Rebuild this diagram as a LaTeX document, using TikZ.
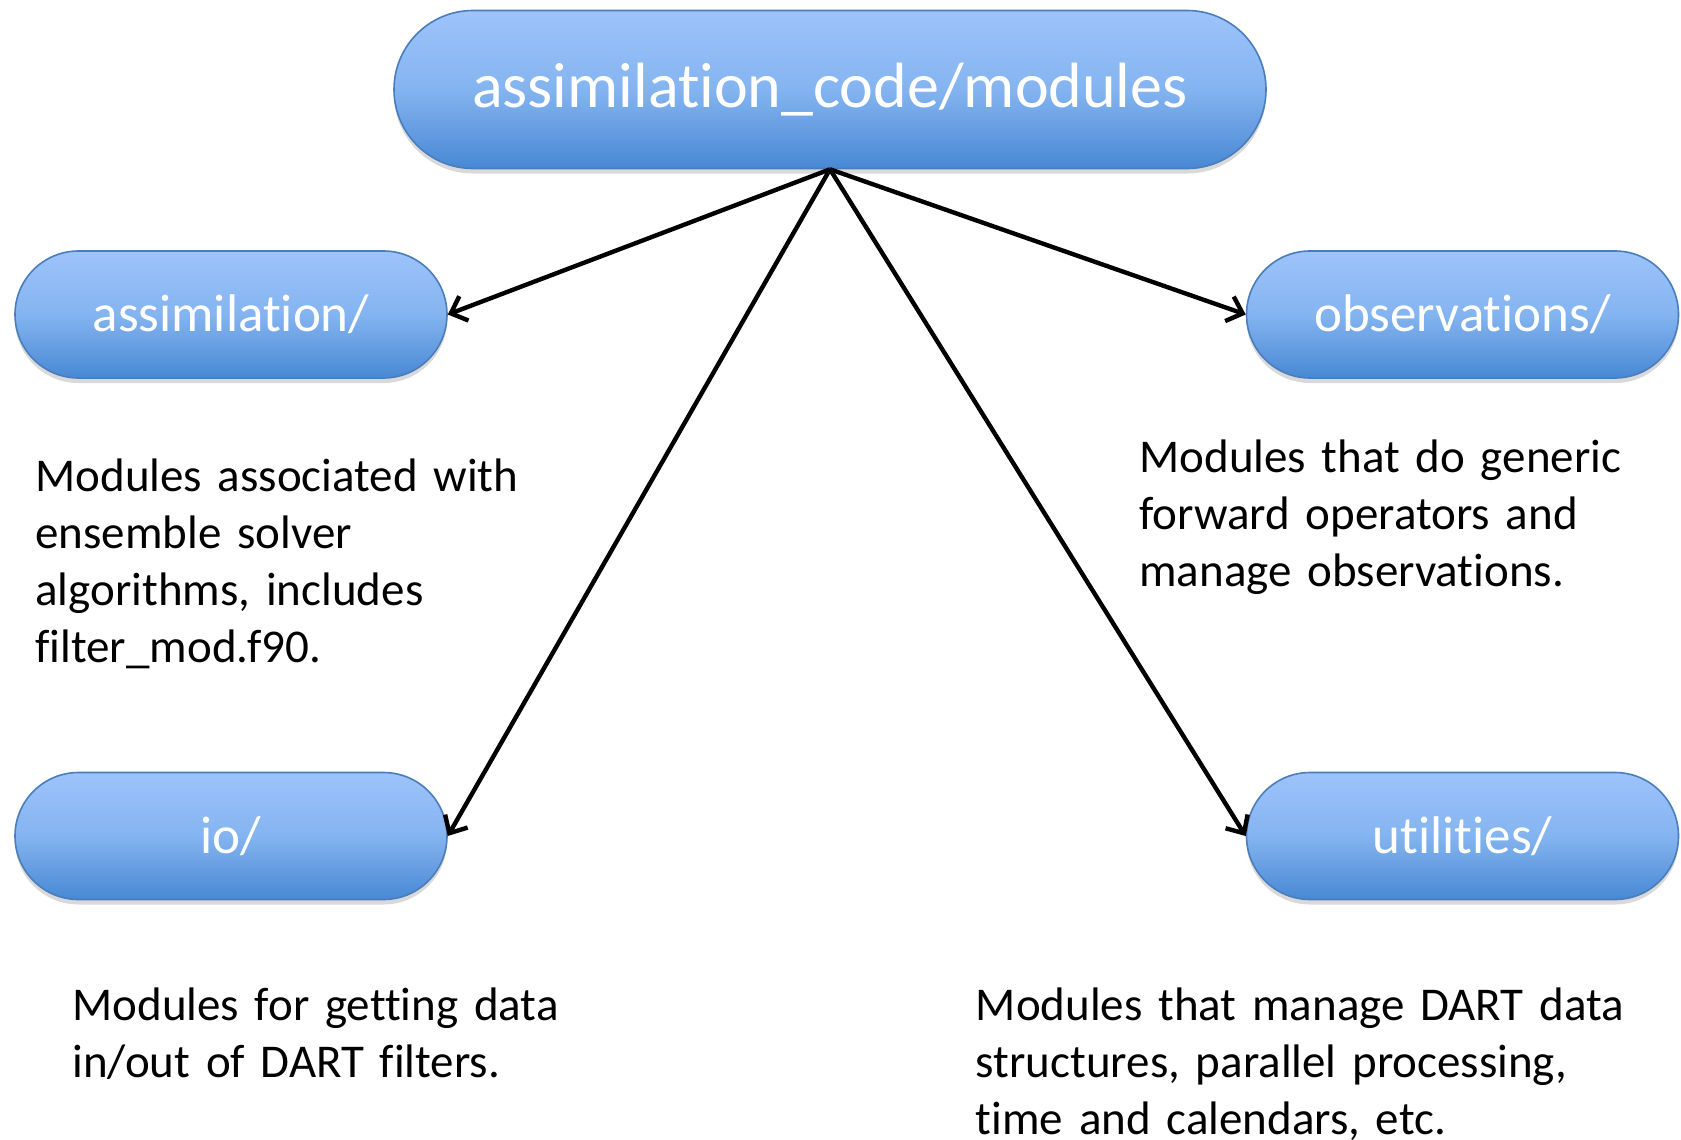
\documentclass[tikz,border=0pt]{standalone}
\usepackage{fontspec}
\setmainfont{Carlito}[Ligatures=NoCommon]
\usetikzlibrary{shapes.misc,arrows.meta,shadows}
\definecolor{boxtop}{RGB}{157,195,251}
\definecolor{boxmid}{RGB}{132,180,240}
\definecolor{boxbot}{RGB}{72,136,212}
\definecolor{boxedge}{RGB}{74,126,187}
\begin{document}
\begin{tikzpicture}
[x=0.5pt,y=-0.5pt,
 dirnode/.style={rounded rectangle,draw=boxedge,line width=0.8pt,
   top color=boxtop,bottom color=boxbot,middle color=boxmid,text=white,
   inner sep=0pt,minimum width=216pt,minimum height=63.5pt,
   font=\fontsize{26.5}{32}\selectfont,
   drop shadow={shadow xshift=0pt,shadow yshift=-2.5pt,opacity=0.3}},
 desc/.style={anchor=base west,inner sep=0pt,text width=340pt,align=left,
   font=\fontsize{23.5}{28.5}\selectfont},
 arrowline/.style={line width=2.2pt,-{Straight Barb[length=7pt,width=13pt]}}]
\useasboundingbox (0,0) rectangle (1681,1140);
%% the directory boxes
\node[dirnode,minimum width=436pt,minimum height=79pt,
      font=\fontsize{32}{38}\selectfont] (modules) at (830,89.5) {assimilation\_code/modules};
\node[dirnode] (assim) at (231,314.5) {assimilation/};
\node[dirnode] (obs) at (1462.5,314.5) {observations/};
\node[dirnode] (io) at (231,836) {io/};
\node[dirnode] (util) at (1462.5,836) {utilities/};
%% the descriptions
\node[desc] (assimtxt) at (35,491) {Modules associated with\\ensemble solver\\algorithms, includes\\filter\_mod.f90.};
\node[desc] (obstxt) at (1139,472) {Modules that do generic\\forward operators and\\manage observations.};
\node[desc] (iotxt) at (72,1020) {Modules for getting data\\in/out of DART filters.};
\node[desc] (utiltxt) at (975.5,1020) {Modules that manage DART data\\structures, parallel processing,\\time and calendars, etc.};
%% the arrows
\foreach \dst/\side in {assim/east, obs/west, io/east, util/west}
{
  \draw[arrowline] (modules.south) -- (\dst.\side);
}
\end{tikzpicture}
\end{document}
